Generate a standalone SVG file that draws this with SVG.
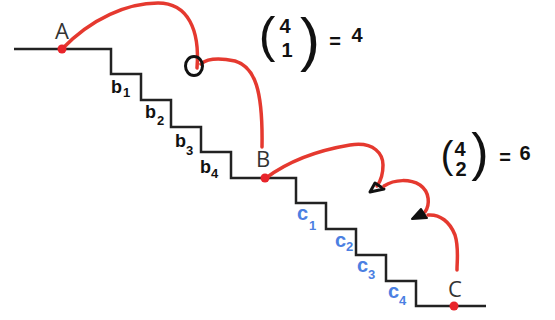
<svg xmlns="http://www.w3.org/2000/svg" width="555" height="320" viewBox="0 0 555 320">
<style>
.stair{fill:none;stroke:#222;stroke-width:2.5;stroke-linejoin:miter}
.red{fill:none;stroke:#e5392f;stroke-width:3.5;stroke-linecap:round}
.dot{fill:#e8242a}
.lbl{font-family:"Open Sans","Liberation Sans",sans-serif;font-size:22px;fill:#333;text-anchor:middle}
.hb{font-family:"Liberation Sans",Arial,sans-serif;font-weight:bold;font-size:18px;fill:#111}
.hc{font-family:"Liberation Sans",Arial,sans-serif;font-weight:bold;font-size:20px;fill:#4b7fe2}
.sub{font-size:13px}
.hw{font-family:"Liberation Sans",Arial,sans-serif;fill:#111;text-anchor:middle}
.num{font-weight:bold;font-size:20px}
</style>
<rect width="555" height="320" fill="#fff"/>
<g id="stairs">
<path class="stair" d="M14,49 H111 V74 H141 V100 H171 V127 H201 V152 H231 V178 H296 V203 H326 V229 H356 V255 H386 V281 H416 V306 H486"/>
</g>
<g id="step-labels">
<text class="hb" x="111" y="93">b<tspan class="sub" x="123" y="97">1</tspan></text>
<text class="hb" x="145" y="118">b<tspan class="sub" x="157" y="125">2</tspan></text>
<text class="hb" x="175" y="147">b<tspan class="sub" x="186" y="155">3</tspan></text>
<text class="hb" x="200" y="173">b<tspan class="sub" x="211" y="178">4</tspan></text>
<text class="hc" x="297" y="220">c<tspan class="sub" x="309" y="230">1</tspan></text>
<text class="hc" x="335" y="247">c<tspan class="sub" x="346" y="251">2</tspan></text>
<text class="hc" x="357" y="272">c<tspan class="sub" x="368" y="279">3</tspan></text>
<text class="hc" x="388" y="298">c<tspan class="sub" x="399" y="305">4</tspan></text>
</g>
<g id="connectors">
<path class="red" d="M62,49 C92,18 128,3 158,3 C188,3 200,30 197,68"/>
<path class="red" d="M201,64 C208,58 220,58 235,61 C255,67 263,90 262,147"/>
<path class="red" d="M266,178 C290,160 320,150 350,145 C375,141 383,155 383,165 C383,175 380,182 377,186"/>
<polygon points="370,192 375,183 384,189" fill="none" stroke="#111" stroke-width="3" stroke-linejoin="round"/>
<path class="red" d="M384,186 C395,179 410,179 420,185 C430,192 430,205 425,212"/>
<polygon points="412,219 421,209 427,218" fill="#111" stroke="#111" stroke-width="2" stroke-linejoin="round"/>
<path class="red" d="M428,215 C440,214 450,222 455,235 C459,248 457,260 457,270"/>
<ellipse cx="194" cy="66" rx="8.5" ry="9.5" fill="none" stroke="#111" stroke-width="3"/>
</g>
<g id="node-A">
<circle class="dot" cx="62" cy="49" r="4.5"/>
<text class="lbl" x="62" y="39">A</text>
</g>
<g id="node-B">
<circle class="dot" cx="265" cy="178" r="4.5"/>
<text class="lbl" x="263" y="167">B</text>
</g>
<g id="node-C">
<circle class="dot" cx="454" cy="306" r="4.5"/>
<text class="lbl" x="455" y="297">C</text>
</g>
<g id="binom-4-1">
<text class="hw" x="267" y="52" font-size="50">(</text>
<text class="hw num" x="285" y="33">4</text>
<text class="hw num" x="287" y="57" font-size="24px">1</text>
<text class="hw" x="310" y="60" font-size="60">)</text>
<text class="hw num" x="335" y="48">=</text>
<text class="hw num" x="357" y="42">4</text>
</g>
<g id="binom-4-2">
<text class="hw" x="447" y="168" font-size="38">(</text>
<text class="hw num" x="460" y="156" font-size="19px">4</text>
<text class="hw num" x="461" y="176" font-size="19px">2</text>
<text class="hw" x="480" y="170" font-size="52">)</text>
<text class="hw num" x="505" y="164">=</text>
<text class="hw num" x="525" y="160">6</text>
</g>
</svg>
